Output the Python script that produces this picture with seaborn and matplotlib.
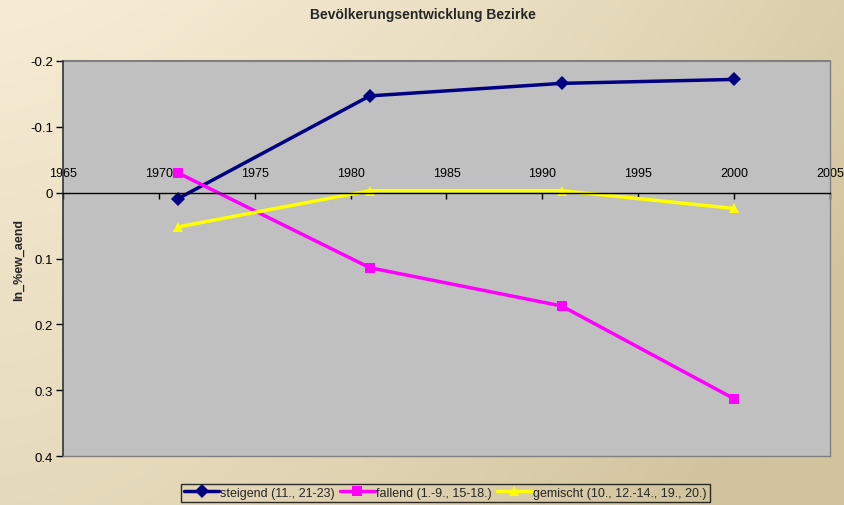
import numpy as np
import pandas as pd
import matplotlib
matplotlib.use("Agg")
import matplotlib.pyplot as plt
import seaborn as sns

# Data
years = [1971, 1981, 1991, 2000]
steigend = [0.009, -0.147, -0.166, -0.172]
fallend = [-0.030, 0.114, 0.172, 0.313]
gemischt = [0.052, -0.003, -0.003, 0.024]
labels = ["steigend (11., 21-23)", "fallend (1.-9., 15-18.)",
          "gemischt (10., 12.-14., 19., 20.)"]
colors = ["#000080", "#FF00FF", "#FFFF00"]
markers = ["D", "s", "^"]

df = pd.DataFrame({
    "Jahr": years * 3,
    "Wert": steigend + fallend + gemischt,
    "Gruppe": [labels[0]] * 4 + [labels[1]] * 4 + [labels[2]] * 4,
})

sns.set_style("white")
plt.rcParams["font.family"] = ["Liberation Sans", "DejaVu Sans"]

fig = plt.figure(figsize=(8.45, 5.06), dpi=100)

# beige gradient background
bg = fig.add_axes([0, 0, 1, 1], zorder=-10)
gx, gy = np.meshgrid(np.linspace(0, 1, 300), np.linspace(0, 1, 200))
t = np.clip(0.75 * gx**1.5 + 0.45 * gy, 0, 1)
light = np.array([246, 236, 212]) / 255
dark = np.array([210, 196, 158]) / 255
img = light[None, None, :] * (1 - t[..., None]) + dark[None, None, :] * t[..., None]
bg.imshow(img, aspect="auto", extent=[0, 1, 0, 1], origin="upper")
bg.axis("off")

ax = fig.add_axes([0.0746, 0.0968, 0.9076, 0.7807])
ax.set_facecolor("#C0C0C0")

sns.lineplot(data=df, x="Jahr", y="Wert", hue="Gruppe", style="Gruppe",
             palette=colors, markers=markers, dashes=False, linewidth=2.5,
             markersize=7.5, markeredgewidth=0, ax=ax, legend=False)

ax.set_xlim(1965, 2005)
ax.set_ylim(0.4, -0.2)
ax.set_yticks([-0.2, -0.1, 0, 0.1, 0.2, 0.3, 0.4])
ax.set_yticklabels(["-0.2", "-0.1", "0", "0.1", "0.2", "0.3", "0.4"])
ax.set_xticks(range(1965, 2006, 5))

# x axis drawn at y = 0 with labels above it
ax.xaxis.set_ticks_position("top")
ax.xaxis.set_label_position("top")
ax.spines["top"].set_position(("data", 0))
ax.spines["top"].set_color("black")
ax.spines["top"].set_linewidth(1)
ax.tick_params(axis="x", direction="in", length=4, width=1, colors="black",
               labelsize=9, pad=10)
ax.tick_params(axis="y", direction="out", length=5, width=1, colors="black",
               labelsize=9.5, pad=2, left=True)
ax.set_xlabel("")
ax.set_ylabel("ln_%ew_aend", fontsize=9, fontweight="bold", labelpad=4)

ax.spines["left"].set_color("#333333")
ax.spines["left"].set_linewidth(1.2)
for s in ["bottom", "right"]:
    ax.spines[s].set_color("#808080")
    ax.spines[s].set_linewidth(1)
# top border of the plot area
ax.axhline(-0.2, color="#808080", linewidth=1.5, clip_on=False)

fig.suptitle("Bevölkerungsentwicklung Bezirke", fontsize=10, fontweight="bold",
             y=0.985)

handles = [plt.Line2D([], [], color=c, marker=m, linewidth=2.5, markersize=7,
                      markeredgewidth=0) for c, m in zip(colors, markers)]
leg = fig.legend(handles, labels, loc="center", bbox_to_anchor=(0.527, 0.024),
                 ncol=3, fontsize=9, frameon=True, fancybox=False,
                 handlelength=2.8, handletextpad=0.1, columnspacing=0.4,
                 borderpad=0.25, borderaxespad=0)
leg.get_frame().set_edgecolor("black")
leg.get_frame().set_facecolor("none")
leg.get_frame().set_linewidth(1)

fig.savefig("out.png", dpi=100)
